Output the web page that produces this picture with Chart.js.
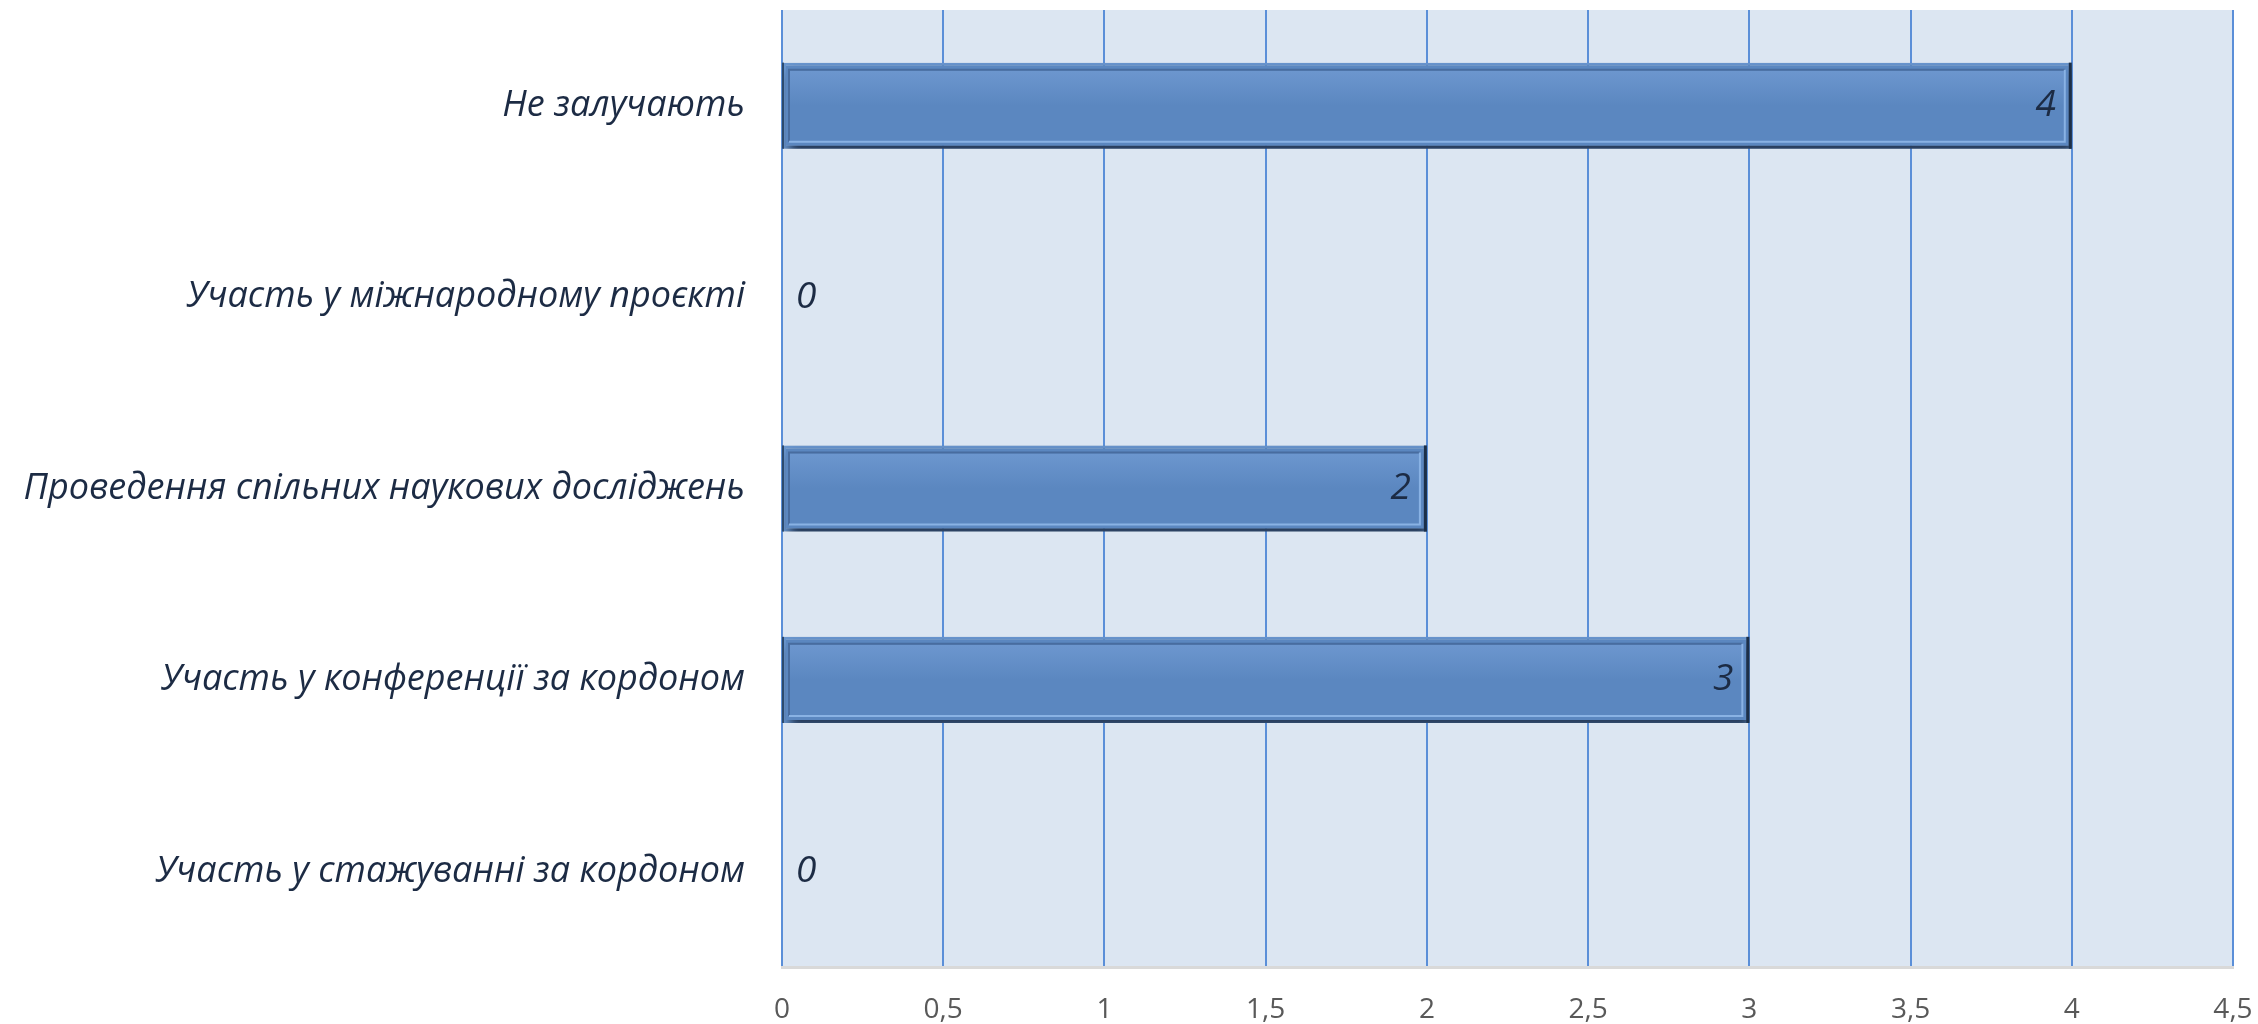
<!DOCTYPE html>
<html>
<head>
<meta charset="utf-8">
<script src="https://cdn.jsdelivr.net/npm/chart.js@4.4.1/dist/chart.umd.min.js"></script>
<style>
  html, body { margin: 0; padding: 0; background: #fff; }
  #wrap { width: 2258px; height: 1024px; }
</style>
</head>
<body>
<div id="wrap"><canvas id="chart" width="2258" height="1024"></canvas></div>
<script>
const categories = [
  'Не залучають',
  'Участь у міжнародному проєкті',
  'Проведення спільних наукових досліджень',
  'Участь у конференції за кордоном',
  'Участь у стажуванні за кордоном'
];
const counts = [4, 0, 2, 3, 0];
const xTicks = [0, 0.5, 1, 1.5, 2, 2.5, 3, 3.5, 4, 4.5];

// plot background
const plotBg = {
  id: 'plotBg',
  beforeDraw(chart) {
    const a = chart.chartArea;
    const ctx = chart.ctx;
    ctx.save();
    ctx.fillStyle = '#dce6f2';
    ctx.fillRect(a.left, a.top, a.right - a.left, a.bottom - a.top);
    ctx.restore();
  }
};

// shadow under the bars, bevel frame, value labels
const barLook = {
  id: 'barLook',
  beforeDatasetDraw(chart) {
    const ctx = chart.ctx;
    ctx.save();
    ctx.shadowColor = 'rgba(10,20,40,0.75)';
    ctx.shadowBlur = 10;
    ctx.shadowOffsetX = 4;
    ctx.shadowOffsetY = 7;
  },
  afterDatasetDraw(chart) {
    const ctx = chart.ctx;
    ctx.restore();
    const meta = chart.getDatasetMeta(0);
    const x0 = chart.scales.x.getPixelForValue(0);
    ctx.save();
    meta.data.forEach(function(bar, i) {
      const v = counts[i];
      if (v > 0) {
        const h = bar.height;
        const top = bar.y - h / 2;
        // lighter top band
        const g = ctx.createLinearGradient(0, top + 7, 0, top + h / 2);
        g.addColorStop(0, 'rgba(130,170,225,0.45)');
        g.addColorStop(1, 'rgba(130,170,225,0)');
        ctx.fillStyle = g;
        ctx.fillRect(x0 + 8, top + 8, bar.x - x0 - 16, h / 2 - 8);
        // inner bevel frame
        ctx.lineWidth = 2;
        ctx.strokeStyle = 'rgba(70,105,155,0.9)';
        ctx.beginPath();
        ctx.moveTo(x0 + 7, top + h - 7);
        ctx.lineTo(x0 + 7, top + 7);
        ctx.lineTo(bar.x - 7, top + 7);
        ctx.stroke();
        ctx.strokeStyle = 'rgba(140,180,230,0.95)';
        ctx.beginPath();
        ctx.moveTo(bar.x - 7, top + 7);
        ctx.lineTo(bar.x - 7, top + h - 7);
        ctx.lineTo(x0 + 7, top + h - 7);
        ctx.stroke();
        // dark left and right edges
        ctx.fillStyle = '#2c4a6e';
        ctx.fillRect(x0, top, 2, h);
        ctx.fillStyle = '#1c2f48';
        ctx.fillRect(bar.x - 3, top, 3, h);
      }
      ctx.fillStyle = '#1c2b44';
      ctx.font = 'italic 37px "Open Sans", sans-serif';
      ctx.textBaseline = 'middle';
      if (v > 0) {
        ctx.textAlign = 'right';
        ctx.fillText(String(v), bar.x - 16, bar.y);
      } else {
        ctx.textAlign = 'left';
        ctx.fillText(String(v), x0 + 14, bar.y);
      }
    });
    ctx.restore();
  }
};

const ctx = document.getElementById('chart').getContext('2d');

new Chart(ctx, {
  type: 'bar',
  data: {
    labels: categories,
    datasets: [{
      label: 'Кількість',
      data: counts,
      backgroundColor: function(c) {
        const bar = c.element;
        if (!bar || bar.height === undefined) return '#5b87c0';
        const top = bar.y - bar.height / 2;
        const g = c.chart.ctx.createLinearGradient(0, top, 0, top + bar.height);
        g.addColorStop(0, '#6e9ad2');
        g.addColorStop(0.4, '#6690c9');
        g.addColorStop(1, '#4874ad');
        return g;
      },
      borderColor: '#6a97d0',
      borderWidth: 3,
      borderSkipped: false,
      barPercentage: 0.45,
      categoryPercentage: 1.0
    }]
  },
  options: {
    indexAxis: 'y',
    responsive: false,
    animation: false,
    layout: { padding: { top: 10, right: 25, left: 0, bottom: 0 } },
    plugins: {
      legend: { display: false },
      tooltip: { enabled: false }
    },
    scales: {
      x: {
        min: 0,
        max: 4.5,
        afterBuildTicks(scale) {
          scale.ticks = xTicks.map(v => ({ value: v }));
        },
        afterFit(scale) {
          scale.height = 57;
          scale.paddingLeft = 0;
          scale.paddingRight = 0;
        },
        grid: {
          color: '#5b8fd8',
          lineWidth: 2,
          drawTicks: false
        },
        border: { display: true, color: '#d9d9d9', width: 3 },
        ticks: {
          padding: 26,
          color: '#595959',
          font: { family: '"Open Sans", sans-serif', size: 28 },
          callback: v => String(v).replace('.', ',')
        }
      },
      y: {
        afterFit(scale) {
          scale.width = 782;
          scale.paddingTop = 0;
          scale.paddingBottom = 0;
        },
        grid: { display: false, drawTicks: true, tickLength: 37 },
        border: { display: false },
        ticks: {
          padding: 0,
          color: '#1c2b44',
          font: { family: '"Open Sans", sans-serif', size: 36, style: 'italic' }
        }
      }
    }
  },
  plugins: [plotBg, barLook]
});
</script>
</body>
</html>
